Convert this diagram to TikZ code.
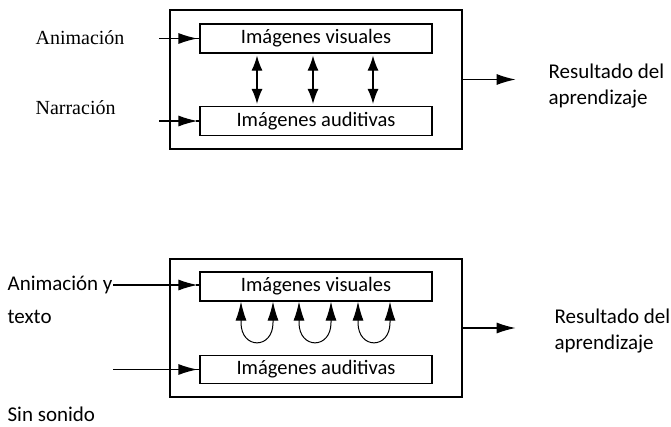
\documentclass[tikz,border=0pt]{standalone}
\usepackage{fontspec}
\setmainfont{Carlito}
\newfontfamily\timesfont{Liberation Serif}
\usetikzlibrary{arrows.meta,positioning,calc}

\begin{document}
\begin{tikzpicture}[x=1pt,y=-1pt,line width=1.2pt,
  punta/.tip={Latex[length=19pt,width=11pt]},
  puntac/.tip={Latex[length=15pt,width=11pt]},
  flecha/.style={-punta},
  doble/.style={puntac-puntac},
  bucle/.style={punta-punta,line width=1pt},
  marco/.style={draw,minimum width=292pt,minimum height=139pt,inner sep=0pt},
  caja/.style={draw,minimum width=232pt,minimum height=29pt,inner sep=0pt,font=\fontsize{20.5}{24}\selectfont},
  etiq/.style={anchor=west,inner sep=0pt,font=\fontsize{21}{26}\selectfont}]
\useasboundingbox (0,0) rectangle (671,426);
% con narracion
\node[marco] (marcoA) at (316,79.5) {};
\node[caja] (visA) at (316,38.5) {Imágenes visuales};
\node[caja] (audA) at (316,121) {Imágenes auditivas};
\node[etiq,font=\timesfont\fontsize{20}{24}\selectfont] (anim) at (35,38) {Animación};
\node[etiq,font=\timesfont\fontsize{20}{24}\selectfont] (narr) at (35,108) {Narración};
\coordinate (inA) at (159,38.5);
\coordinate (inB) at (159,121);
\draw[flecha,shorten >=2pt] (inA) -- (visA.west);
\draw (visA.west) -- ++(-3,0);
\draw[flecha,shorten >=2pt] (inB) -- (audA.west);
\draw (audA.west) -- ++(-3,0);
\foreach \dx in {-59,-3,57}
  \draw[doble] ([xshift=\dx pt,yshift=-2pt]visA.south) -- ([xshift=\dx pt,yshift=2pt]audA.north);
\draw[flecha] (marcoA.east) -- ++(53,0) coordinate (outA);
\node[etiq,align=left] (resA) at (548,86) {Resultado del\\aprendizaje};
% sin sonido
\node[marco,minimum height=138pt] (marcoB) at (316,328) {};
\node[caja] (visB) at (316,286.5) {Imágenes visuales};
\node[caja,minimum height=28pt] (audB) at (316,369.5) {Imágenes auditivas};
\node[etiq] (anim2) at (7,285) {Animación y};
\node[etiq] (texto) at (7,317) {texto};
\node[etiq] (sinson) at (7,414) {Sin sonido};
\coordinate (inC) at (113,369.5);
\draw[flecha,shorten >=2pt] (anim2.east) -- (anim2.east -| visB.west);
\draw (anim2.east -| visB.west) -- ++(-3,0);
\draw[flecha,shorten >=2pt] (inC) -- (audB.west);
\draw (audB.west) -- ++(-3,0);
\foreach \a/\b in {-75/-43,-17/15,42/74}
  \draw[bucle] ([xshift=\a pt]visB.south) -- ++(0,21) .. controls +(0,27) and +(0,27) .. ([xshift=\b pt,yshift=-21pt]visB.south) -- ([xshift=\b pt]visB.south);
\draw[flecha] (marcoB.east) -- ++(53,0) coordinate (outB);
\node[etiq,align=left] (resB) at (554,331) {Resultado del\\aprendizaje};
\end{tikzpicture}
\end{document}
